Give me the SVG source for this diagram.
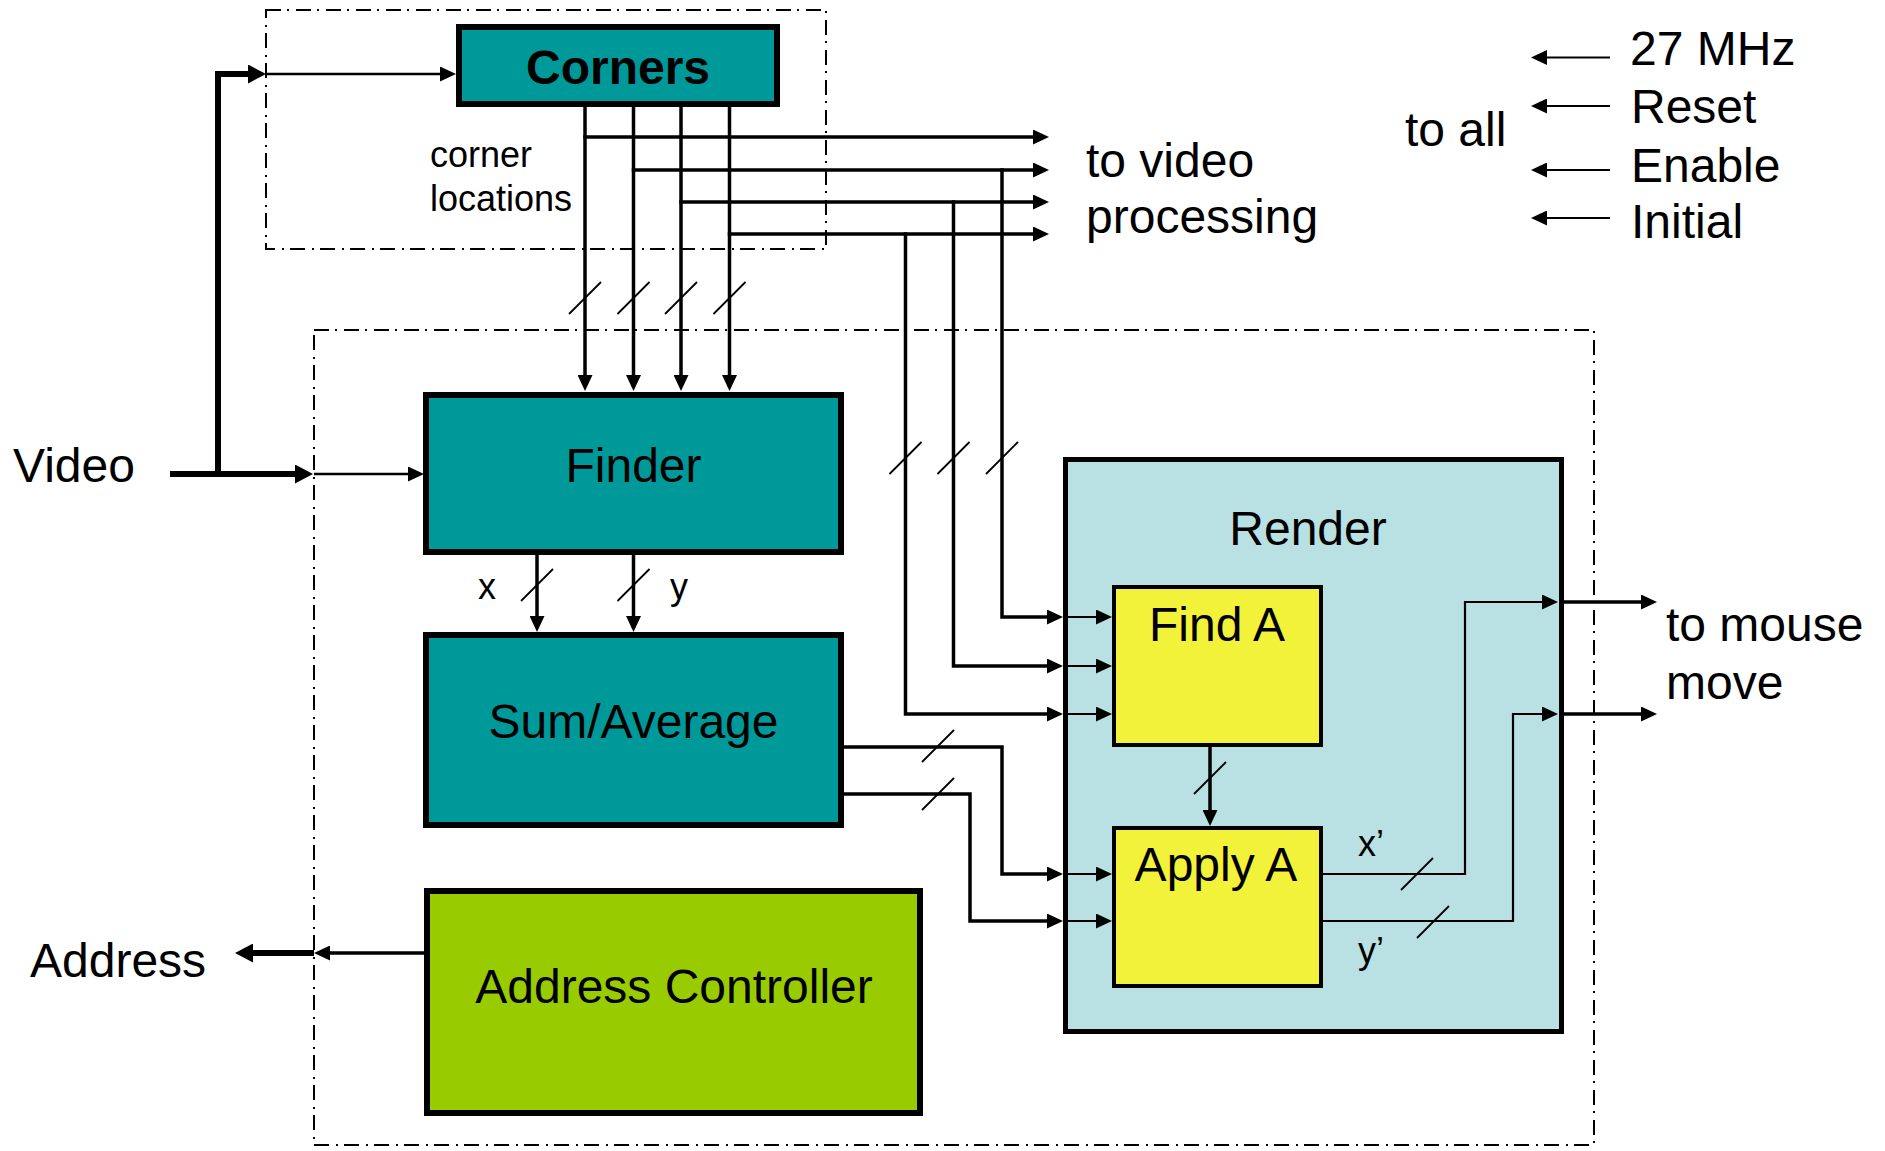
<svg xmlns="http://www.w3.org/2000/svg" width="1885" height="1151" viewBox="0 0 1885 1151">
  <style>
    text { font-family: "Liberation Sans", Arial, sans-serif; fill: #000; }
    .lbl { font-size: 48px; }
    .sm { font-size: 36px; }
    .mid { text-anchor: middle; }
    .box { stroke: #000; stroke-width: 6; }
    .teal { fill: #009999; }
    .green { fill: #99CC00; }
    .render { fill: #B9E0E3; stroke: #000; stroke-width: 5; }
    .yellow { fill: #F2F23A; stroke: #000; stroke-width: 4; }
    .frame { fill: none; stroke: #000; stroke-width: 2; stroke-dasharray: 15 6 2 7; }
    .w { fill: none; stroke: #000; stroke-width: 3.5; stroke-linejoin: miter; }
    .thin { fill: none; stroke: #000; stroke-width: 2.2; }
    .mthin { fill: none; stroke: #000; stroke-width: 2.7; }
    .bold { fill: none; stroke: #000; stroke-width: 6; }
    .slash { fill: none; stroke: #000; stroke-width: 1.8; }
  </style>
  <defs>
    <!-- tip sits 4 units past the path end -->
    <marker id="ah" markerUnits="userSpaceOnUse" viewBox="0 0 16 15" markerWidth="16" markerHeight="15" refX="12" refY="7.5" orient="auto">
      <path d="M0,0 L16,7.5 L0,15 z" fill="#000"/>
    </marker>
    <!-- tip sits 6 units past the path end -->
    <marker id="ahb" markerUnits="userSpaceOnUse" viewBox="0 0 18 19" markerWidth="18" markerHeight="19" refX="12" refY="9.5" orient="auto">
      <path d="M0,0 L18,9.5 L0,19 z" fill="#000"/>
    </marker>
  </defs>

  <rect width="1885" height="1151" fill="#fff"/>

  <!-- dash-dot frames -->
  <g id="frames">
    <rect class="frame" x="266" y="10" width="560" height="239"/>
    <rect class="frame" x="314" y="330" width="1280" height="815"/>
  </g>

  <g id="corners">
    <rect class="box teal" x="459" y="27" width="318" height="77"/>
    <text class="lbl mid" x="618" y="84" font-weight="bold">Corners</text>
  </g>

  <g id="finder">
    <rect class="box teal" x="426" y="395" width="415" height="157"/>
    <text class="lbl mid" x="633.5" y="482">Finder</text>
  </g>

  <g id="sum-average">
    <rect class="box teal" x="426" y="635" width="415" height="190"/>
    <text class="lbl mid" x="633.5" y="738">Sum/Average</text>
  </g>

  <g id="address-controller">
    <rect class="box green" x="427" y="891" width="493" height="222"/>
    <text class="lbl mid" x="674" y="1003">Address Controller</text>
  </g>

  <g id="render">
    <rect class="render" x="1065.5" y="459.5" width="496" height="572"/>
    <text class="lbl mid" x="1308" y="545">Render</text>
  </g>

  <g id="find-a">
    <rect class="yellow" x="1114" y="587" width="207" height="158"/>
    <text class="lbl mid" x="1217" y="641">Find A</text>
  </g>

  <g id="apply-a">
    <rect class="yellow" x="1114" y="828" width="207" height="158"/>
    <text class="lbl mid" x="1216" y="881">Apply A</text>
  </g>

  <g id="connectors">
    <!-- video input -->
    <path class="bold" d="M170,474 H307" marker-end="url(#ahb)"/>
    <path class="bold" d="M218,477 V74 H260" marker-end="url(#ahb)"/>
    <path class="mthin" d="M314,474 H420" marker-end="url(#ah)"/>
    <path class="mthin" d="M266,74 H452" marker-end="url(#ah)"/>

    <!-- corner locations down to Finder -->
    <path class="w" d="M585,104 V387" marker-end="url(#ah)"/>
    <path class="w" d="M633.5,104 V387" marker-end="url(#ah)"/>
    <path class="w" d="M681,104 V387" marker-end="url(#ah)"/>
    <path class="w" d="M729.5,104 V387" marker-end="url(#ah)"/>

    <!-- corner locations to video processing -->
    <path class="w" d="M583.25,137 H1045" marker-end="url(#ah)"/>
    <path class="w" d="M631.75,170 H1045" marker-end="url(#ah)"/>
    <path class="w" d="M679.25,202 H1045" marker-end="url(#ah)"/>
    <path class="w" d="M727.75,234 H1045" marker-end="url(#ah)"/>

    <!-- corner locations into Render / Find A -->
    <path class="w" d="M1002,168.25 V617 H1059" marker-end="url(#ah)"/>
    <path class="w" d="M953.5,200.25 V666 H1059" marker-end="url(#ah)"/>
    <path class="w" d="M905.5,232.25 V714 H1059" marker-end="url(#ah)"/>
    <path class="thin" d="M1068,617 H1108" marker-end="url(#ah)"/>
    <path class="thin" d="M1068,666 H1108" marker-end="url(#ah)"/>
    <path class="thin" d="M1068,714 H1108" marker-end="url(#ah)"/>

    <!-- Finder x / y to Sum/Average -->
    <path class="w" d="M537,555 V628" marker-end="url(#ah)"/>
    <path class="w" d="M633.5,555 V628" marker-end="url(#ah)"/>

    <!-- Sum/Average into Render / Apply A -->
    <path class="w" d="M844,747 H1002 V874 H1059" marker-end="url(#ah)"/>
    <path class="w" d="M844,794 H970 V921 H1059" marker-end="url(#ah)"/>
    <path class="thin" d="M1068,874 H1108" marker-end="url(#ah)"/>
    <path class="thin" d="M1068,921 H1108" marker-end="url(#ah)"/>

    <!-- Find A to Apply A -->
    <path class="w" d="M1210,747 V822" marker-end="url(#ah)"/>

    <!-- x' / y' out of Render -->
    <path class="thin" d="M1323,874 H1465 V602 H1554" marker-end="url(#ah)"/>
    <path class="thin" d="M1323,921 H1513 V714 H1554" marker-end="url(#ah)"/>
    <path class="w" d="M1564,602 H1653" marker-end="url(#ah)"/>
    <path class="w" d="M1564,714 H1653" marker-end="url(#ah)"/>

    <!-- address output -->
    <path class="w" d="M424,953 H318" marker-end="url(#ah)"/>
    <path class="bold" d="M314,953 H241" marker-end="url(#ahb)"/>

    <!-- global signals -->
    <path class="thin" d="M1610,57.5 H1535" marker-end="url(#ah)"/>
    <path class="thin" d="M1610,106 H1535" marker-end="url(#ah)"/>
    <path class="thin" d="M1610,170 H1535" marker-end="url(#ah)"/>
    <path class="thin" d="M1610,218 H1535" marker-end="url(#ah)"/>

    <!-- bus width marks -->
    <g class="slash">
      <path d="M569,314 L601,282"/>
      <path d="M617.5,314 L649.5,282"/>
      <path d="M665,314 L697,282"/>
      <path d="M713.5,314 L745.5,282"/>
      <path d="M889.5,474 L921.5,442"/>
      <path d="M937.5,474 L969.5,442"/>
      <path d="M986,474 L1018,442"/>
      <path d="M521,601 L553,569"/>
      <path d="M617.5,601 L649.5,569"/>
      <path d="M922,762 L954,730"/>
      <path d="M922,810 L954,778"/>
      <path d="M1194,794 L1226,762"/>
      <path d="M1401,890 L1433,858"/>
      <path d="M1417,938 L1449,906"/>
    </g>
  </g>

  <!-- free labels -->
  <g id="labels">
    <text class="sm" x="430" y="167">corner</text>
    <text class="sm" x="430" y="211">locations</text>
    <text class="lbl" x="1086" y="177">to video</text>
    <text class="lbl" x="1086" y="233">processing</text>
    <text class="lbl" x="1405" y="146">to all</text>
    <text class="lbl" x="1630" y="65">27 MHz</text>
    <text class="lbl" x="1631" y="123">Reset</text>
    <text class="lbl" x="1631" y="182">Enable</text>
    <text class="lbl" x="1631" y="238">Initial</text>
    <text class="lbl" x="13" y="482">Video</text>
    <text class="sm" x="478" y="599">x</text>
    <text class="sm" x="670" y="599">y</text>
    <text class="sm" x="1358" y="856">x’</text>
    <text class="sm" x="1358" y="963">y’</text>
    <text class="lbl" x="1666" y="641">to mouse</text>
    <text class="lbl" x="1666" y="699">move</text>
    <text class="lbl" x="30" y="977">Address</text>
  </g>
</svg>
